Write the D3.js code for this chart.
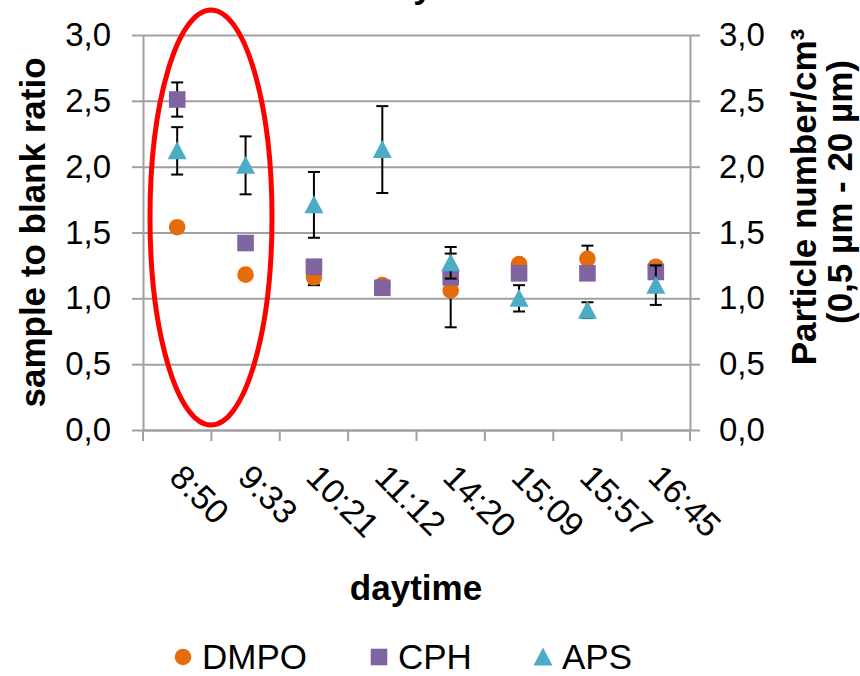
<!DOCTYPE html>
<html>
<head>
<meta charset="utf-8">
<script src="https://cdn.jsdelivr.net/npm/d3@7"></script>
<style>
  html, body { margin: 0; padding: 0; background: #fff; }
  svg { display: block; font-family: "Liberation Sans", Arial, sans-serif; }
</style>
</head>
<body>
<svg id="chart" width="860" height="676"></svg>
<script>
// ---- data ----
const categories = ["8:50", "9:33", "10:21", "11:12", "14:20", "15:09", "15:57", "16:45"];
const dmpo    = [1.54, 1.18, 1.16, 1.10, 1.06, 1.26, 1.30, 1.24];
const dmpoErr = [0.03, 0.03, 0.06, 0.03, 0.28, 0.03, 0.10, 0.03];
const cph     = [2.51, 1.42, 1.24, 1.08, 1.16, 1.19, 1.19, 1.20];
const cphErr  = [0.13, 0.03, 0.03, 0.03, 0.03, 0.03, 0.03, 0.03];
const aps     = [2.12, 2.01, 1.71, 2.13, 1.27, 1.00, 0.91, 1.10];
const apsErr  = [0.18, 0.22, 0.25, 0.33, 0.12, 0.10, 0.06, 0.15];
const yTicks  = [0, 0.5, 1.0, 1.5, 2.0, 2.5, 3.0];
const seriesNames = ["DMPO", "CPH", "APS"];
const colors = { DMPO: "#E46C0A", CPH: "#8064A2", APS: "#4BACC6" };

const svg = d3.select("#chart");
const L = 143, R = 690, T = 35, B = 430;

const x = d3.scaleBand().domain(categories).range([L, R]).padding(0);
const y = d3.scaleLinear().domain([0, 3]).range([B, T]);
const cx = c => x(c) + x.bandwidth() / 2;
const fmt = d => d.toFixed(1).replace(".", ",");

// gridlines
svg.append("g")
  .attr("transform", `translate(${L},0)`)
  .call(d3.axisRight(y).tickValues(yTicks).tickSize(R - L).tickFormat(""))
  .call(g => g.select(".domain").remove())
  .call(g => g.selectAll("line").attr("stroke", "#a0a0a0").attr("stroke-width", 2));

// left axis
const gl = svg.append("g")
  .attr("transform", `translate(${L},0)`)
  .call(d3.axisLeft(y).tickValues(yTicks).tickFormat(fmt).tickSize(11).tickSizeOuter(0).tickPadding(21));
gl.select(".domain").attr("stroke", "#a0a0a0").attr("stroke-width", 2);
gl.selectAll(".tick line").attr("stroke", "#a0a0a0").attr("stroke-width", 2);
gl.selectAll(".tick text").attr("font-size", 33).attr("fill", "#000")
  .attr("font-family", "Liberation Sans, Arial, sans-serif");

// right axis
const gr = svg.append("g")
  .attr("transform", `translate(${R},0)`)
  .call(d3.axisRight(y).tickValues(yTicks).tickFormat(fmt).tickSize(10).tickSizeOuter(0).tickPadding(19));
gr.select(".domain").attr("stroke", "#a0a0a0").attr("stroke-width", 2);
gr.selectAll(".tick line").attr("stroke", "#a0a0a0").attr("stroke-width", 2);
gr.selectAll(".tick text").attr("font-size", 33).attr("fill", "#000")
  .attr("font-family", "Liberation Sans, Arial, sans-serif");

// bottom axis (ticks at band boundaries)
const gb = svg.append("g")
  .attr("transform", `translate(0,${B})`)
  .call(d3.axisBottom(x).tickSize(0).tickFormat(""));
gb.select(".domain").attr("stroke", "#a0a0a0").attr("stroke-width", 2);
const boundaries = categories.map(c => x(c)).concat([R]);
gb.selectAll("line.bnd").data(boundaries).enter().append("line")
  .attr("class", "bnd")
  .attr("x1", d => d).attr("x2", d => d).attr("y1", 0).attr("y2", 11)
  .attr("stroke", "#a0a0a0").attr("stroke-width", 2);

// rotated category labels
svg.append("g").selectAll("text").data(categories).enter().append("text")
  .attr("transform", d => `translate(${cx(d) + 8},${B + 32}) rotate(45)`)
  .attr("dy", "0.72em")
  .attr("font-size", 34)
  .attr("fill", "#000")
  .text(d => d);

// axis titles
svg.append("text")
  .attr("transform", `translate(45,${(T + B) / 2}) rotate(-90)`)
  .attr("text-anchor", "middle")
  .attr("font-size", 35).attr("font-weight", "bold")
  .text("sample to blank ratio");

svg.append("text")
  .attr("transform", `translate(816,197) rotate(-90)`)
  .attr("text-anchor", "middle")
  .attr("font-size", 35).attr("font-weight", "bold")
  .text("Particle number/cm³");
svg.append("text")
  .attr("transform", `translate(852,192) rotate(-90)`)
  .attr("text-anchor", "middle")
  .attr("font-size", 35).attr("font-weight", "bold")
  .text("(0,5 µm - 20 µm)");

svg.append("text")
  .attr("x", 416).attr("y", 600)
  .attr("text-anchor", "middle")
  .attr("font-size", 35).attr("font-weight", "bold")
  .text("daytime");

// partially visible title descender
svg.append("text")
  .attr("x", 423).attr("y", -2)
  .attr("text-anchor", "middle")
  .attr("font-size", 35).attr("font-weight", "bold")
  .text("y");

// series
const data = [
  { name: "DMPO", vals: dmpo, errs: dmpoErr },
  { name: "CPH",  vals: cph,  errs: cphErr },
  { name: "APS",  vals: aps,  errs: apsErr }
];
const capW = 6;
function marker(sel, name, px, py) {
  if (name === "DMPO") {
    sel.append("circle").attr("cx", px).attr("cy", py).attr("r", 8.3).attr("fill", colors.DMPO);
  } else if (name === "CPH") {
    sel.append("rect").attr("x", px - 8.3).attr("y", py - 8.3).attr("width", 16.6).attr("height", 16.6)
      .attr("fill", colors.CPH);
  } else {
    sel.append("path")
      .attr("d", `M${px},${py - 9.5}L${px + 9.5},${py + 8.5}L${px - 9.5},${py + 8.5}Z`)
      .attr("fill", colors.APS);
  }
}
data.forEach(s => {
  const g = svg.append("g").attr("class", "series-" + s.name);
  categories.forEach((c, i) => {
    const px = cx(c), v = s.vals[i], e = s.errs[i];
    const y1 = y(v + e), y2 = y(v - e);
    g.append("line").attr("x1", px).attr("x2", px).attr("y1", y1).attr("y2", y2)
      .attr("stroke", "#000").attr("stroke-width", 2);
    [y1, y2].forEach(yy => g.append("line")
      .attr("x1", px - capW).attr("x2", px + capW).attr("y1", yy).attr("y2", yy)
      .attr("stroke", "#000").attr("stroke-width", 2));
    marker(g, s.name, px, y(v));
  });
});

// highlight ellipse
svg.append("ellipse")
  .attr("cx", 211).attr("cy", 217.5).attr("rx", 61).attr("ry", 207.5)
  .attr("fill", "none").attr("stroke", "#ff0000").attr("stroke-width", 5);

// legend
const leg = svg.append("g");
const legendX = { DMPO: 183, CPH: 379, APS: 543 };
seriesNames.forEach(n => {
  marker(leg, n, legendX[n], 657);
  leg.append("text").attr("x", legendX[n] + 19).attr("y", 669)
    .attr("font-size", 35).attr("fill", "#000").text(n);
});
</script>
</body>
</html>
